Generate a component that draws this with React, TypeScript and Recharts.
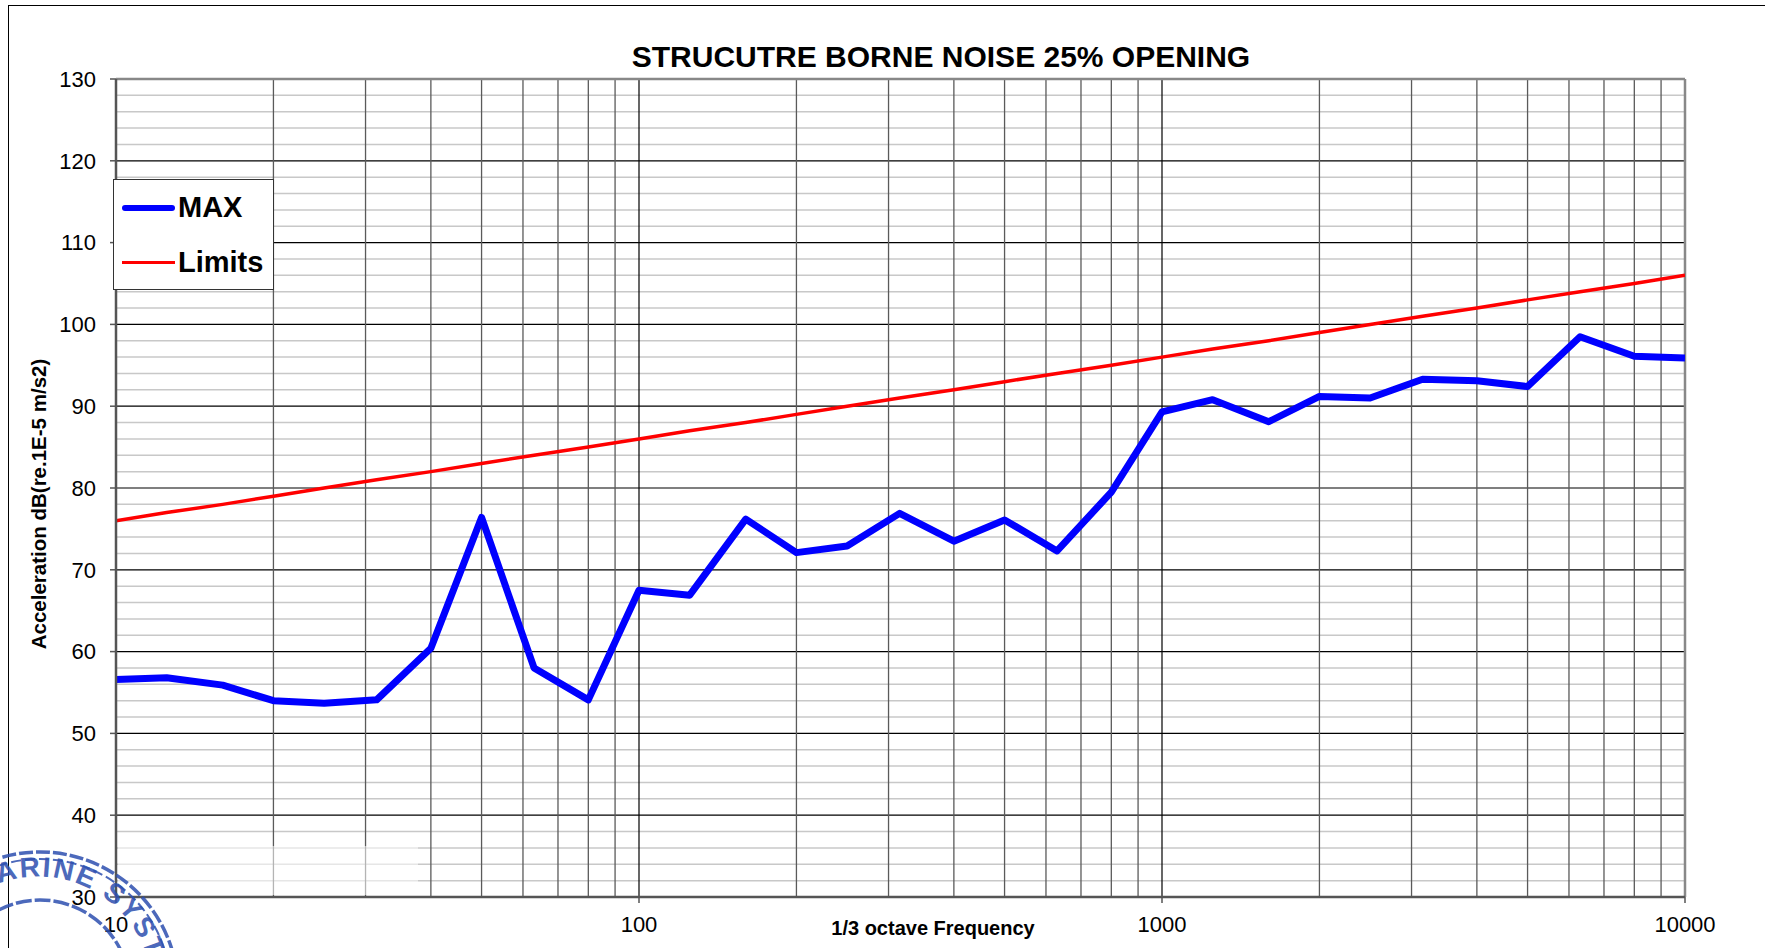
import React from 'react';
import { LineChart, Line, XAxis, YAxis, ReferenceLine, Legend, Label } from 'recharts';

// 1/3 octave centre frequencies (Hz)
const freqs = [10, 12.5, 16, 20, 25, 31.5, 40, 50, 63, 80, 100, 125, 160, 200, 250, 315, 400, 500, 630, 800,
  1000, 1250, 1600, 2000, 2500, 3150, 4000, 5000, 6300, 8000, 10000];

// measured max acceleration level, dB
const maxValues = [56.6, 56.8, 55.9, 54.0, 53.7, 54.1, 60.4, 76.4, 58.0, 54.1, 67.5, 66.9, 76.2, 72.1, 72.9, 76.9,
  73.5, 76.1, 72.3, 79.5, 89.3, 90.8, 88.1, 91.2, 91.0, 93.3, 93.1, 92.4, 98.5, 96.1, 95.9];

// limit curve, dB
const limitValues = [76, 77, 78, 79, 80, 81, 82, 83, 84, 85, 86, 87, 88, 89, 90, 91, 92, 93, 94, 95,
  96, 97, 98, 99, 100, 101, 102, 103, 104, 105, 106];

const xTicks = [10, 100, 1000, 10000];
const yTicks = [30, 40, 50, 60, 70, 80, 90, 100, 110, 120, 130];

// log grid
const minorFreqs = [20, 30, 40, 50, 60, 70, 80, 90, 200, 300, 400, 500, 600, 700, 800, 900,
  2000, 3000, 4000, 5000, 6000, 7000, 8000, 9000];
const decadeFreqs = [100, 1000];
const majorDb = [40, 50, 60, 70, 80, 90, 100, 110, 120];
const minorDb = [32, 34, 36, 38, 42, 44, 46, 48, 52, 54, 56, 58, 62, 64, 66, 68, 72, 74, 76, 78,
  82, 84, 86, 88, 92, 94, 96, 98, 102, 104, 106, 108, 112, 114, 116, 118, 122, 124, 126, 128];

const data = freqs.map((f, i) => ({ f, max: maxValues[i], limit: limitValues[i] }));

const FONT = '"Liberation Sans", Arial, sans-serif';

const renderLegend = () => (
  <div
    style={{
      width: 159,
      height: 109,
      border: '1px solid #333',
      background: '#fff',
      position: 'relative',
      fontFamily: FONT,
      fontWeight: 'bold',
      fontSize: 29,
      color: '#000',
    }}
  >
    <div style={{ position: 'absolute', left: 8, top: 25, width: 53, height: 6, borderRadius: 3, background: '#0000ff' }} />
    <div style={{ position: 'absolute', left: 64, top: 10, lineHeight: '34px' }}>MAX</div>
    <div style={{ position: 'absolute', left: 8, top: 81, width: 53, height: 3, background: '#ff0000' }} />
    <div style={{ position: 'absolute', left: 64, top: 65, lineHeight: '34px' }}>Limits</div>
  </div>
);

const App: React.FC = () => {
  return (
    <div style={{ position: 'relative', width: 1765, height: 948, overflow: 'hidden', background: '#fff' }}>
      <style>{'body{margin:0;overflow:hidden;}'}</style>
      {/* page frame */}
      <div style={{ position: 'absolute', left: 8, top: 5, right: 0, height: 1, background: '#000' }} />
      <div style={{ position: 'absolute', left: 8, top: 5, bottom: 0, width: 1, background: '#000' }} />

      <LineChart
        width={1765}
        height={948}
        data={data}
        margin={{ top: 79, right: 80, left: 56, bottom: 11 }}
      >
        {minorDb.map((v) => (
          <ReferenceLine key={'hm' + v} y={v} stroke="#c8c8c8" strokeWidth={1.5} />
        ))}
        {majorDb.map((v) => (
          <ReferenceLine key={'hM' + v} y={v} stroke="#000" strokeWidth={1.2} />
        ))}
        {minorFreqs.map((v) => (
          <ReferenceLine key={'vm' + v} x={v} stroke="#5a5a5a" strokeWidth={1.3} />
        ))}
        {decadeFreqs.map((v) => (
          <ReferenceLine key={'vM' + v} x={v} stroke="#000" strokeWidth={1.2} />
        ))}
        <ReferenceLine y={130} stroke="#888" strokeWidth={2.5} />
        <ReferenceLine x={10000} stroke="#888" strokeWidth={2.5} />

        <XAxis
          dataKey="f"
          type="number"
          scale="log"
          domain={[10, 10000]}
          ticks={xTicks}
          allowDataOverflow
          height={40}
          tickSize={6}
          tickMargin={13}
          axisLine={{ stroke: '#555', strokeWidth: 2.5 }}
          tickLine={{ stroke: '#555', strokeWidth: 1.5 }}
          tick={{ fill: '#000', fontSize: 22, fontFamily: FONT }}
        >
          <Label
            content={() => (
              <text x={933} y={935} textAnchor="middle" fontFamily={FONT} fontWeight="bold" fontSize={20} fill="#000">
                1/3 octave Frequency
              </text>
            )}
          />
        </XAxis>
        <YAxis
          type="number"
          domain={[30, 130]}
          ticks={yTicks}
          allowDataOverflow
          width={60}
          tickSize={6}
          tickMargin={14}
          axisLine={{ stroke: '#555', strokeWidth: 2.5 }}
          tickLine={{ stroke: '#555', strokeWidth: 1.5 }}
          tick={{ fill: '#000', fontSize: 22, fontFamily: FONT }}
        >
          <Label
            content={() => (
              <text
                x={46}
                y={504}
                transform="rotate(-90, 46, 504)"
                textAnchor="middle"
                fontFamily={FONT}
                fontWeight="bold"
                fontSize={20.5}
                fill="#000"
              >
                Acceleration dB(re.1E-5 m/s2)
              </text>
            )}
          />
        </YAxis>

        <Line
          dataKey="limit"
          name="Limits"
          type="linear"
          stroke="#ff0000"
          strokeWidth={3.5}
          dot={false}
          activeDot={false}
          isAnimationActive={false}
        />
        <Line
          dataKey="max"
          name="MAX"
          type="linear"
          stroke="#0000ff"
          strokeWidth={7}
          strokeLinejoin="round"
          dot={false}
          activeDot={false}
          isAnimationActive={false}
        />
        <Legend
          layout="horizontal"
          verticalAlign="middle"
          align="center"
          content={renderLegend}
          wrapperStyle={{ left: 113, top: 179, width: 161, height: 111 }}
        />
      </LineChart>

      {/* title and scanned stamp */}
      <svg
        width={1765}
        height={948}
        style={{ position: 'absolute', left: 0, top: 0, pointerEvents: 'none' }}
      >
        <text x={941} y={67} textAnchor="middle" fontFamily={FONT} fontWeight="bold" fontSize={30} fill="#000">
          STRUCUTRE BORNE NOISE 25% OPENING
        </text>
        <rect x={118} y={846} width={300} height={49} fill="#fff" opacity={0.55} />
        <defs>
          <path id="stampArc" d="M -75 990 A 112 112 0 0 1 152 990" />
        </defs>
        <g stroke="#2d4fb0" fill="none" opacity={0.85}>
          <circle cx={40} cy={990} r={138} strokeWidth={3.5} strokeDasharray="14 3" />
          <circle cx={40} cy={990} r={131} strokeWidth={2} strokeDasharray="10 4" />
          <circle cx={40} cy={990} r={90} strokeWidth={3.5} strokeDasharray="16 3" />
        </g>
        <text fontFamily={FONT} fontSize={28} fontWeight="bold" fill="#2d4fb0" opacity={0.85} letterSpacing={2}>
          <textPath href="#stampArc" startOffset={112}>
            MARINE SYSTEMS
          </textPath>
        </text>
      </svg>
    </div>
  );
};

export default App;
